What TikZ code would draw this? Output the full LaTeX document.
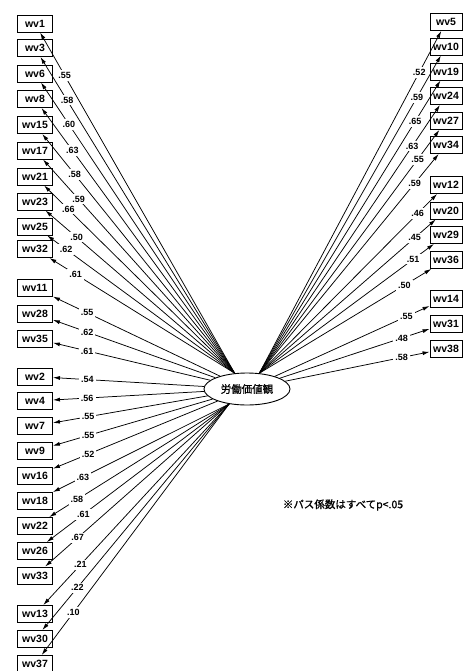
\documentclass[tikz,border=0pt]{standalone}
\usepackage{fontspec}
\setmainfont{Liberation Sans}
\newfontfamily\jpfont[FakeBold=1.2]{Noto Sans CJK JP}
\usetikzlibrary{shapes.geometric,arrows.meta}
\newcommand\wvfont{\fontsize{10.5}{12}\selectfont\bfseries}
\newcommand\cffont{\fontsize{9}{10}\selectfont\bfseries}
\tikzset{
  lbox/.style={draw, line width=0.9pt, minimum width=35pt, minimum height=17pt, inner sep=0pt, font=\wvfont},
  rbox/.style={lbox, minimum width=32pt},
  latent/.style={ellipse, draw, line width=0.9pt, minimum width=86pt, minimum height=32pt, inner sep=0pt, font=\jpfont\fontsize{10.5}{12}\selectfont},
  conn/.style={line width=0.75pt, -{Latex[length=7pt,width=4pt]}},
  coef/.style={fill=white, inner sep=2pt, font=\cffont},
}
\begin{document}
\begin{tikzpicture}[x=1pt,y=-1pt]
\useasboundingbox (0,0) rectangle (463,671);
\node[latent] (e) at (247,389) {労働価値観};
% left boxes
\foreach \n/\y in {wv1/23.5, wv3/48, wv6/73.5, wv8/99, wv15/125, wv17/150.5, wv21/176.5, wv23/201.5, wv25/226.5, wv32/249,
  wv11/288, wv28/313.5, wv35/338.5, wv2/376.5, wv4/401, wv7/426, wv9/451, wv16/476, wv18/501, wv22/526, wv26/551, wv33/575.5,
  wv13/614, wv30/639, wv37/664}
  \node[lbox] (\n) at (35,\y) {\n};
% right boxes
\foreach \n/\y in {wv5/22, wv10/46.5, wv19/71.5, wv24/96, wv27/121, wv34/145, wv12/185, wv20/210.5, wv29/235, wv36/260,
  wv14/298.5, wv31/323.5, wv38/348.5}
  \node[rbox] (\n) at (446,\y) {\n};
% upper left
\foreach \n/\p/\v in {wv1/.874/.55, wv3/.863/.58, wv6/.856/.60, wv8/.840/.63, wv15/.831/.58, wv17/.814/.59, wv21/.873/.66,
  wv23/.835/.50, wv25/.899/.62, wv32/.858/.61}
  \draw[conn] (e.128) -- node[coef,pos=\p]{\v} (\n);
% upper right
\foreach \n/\p/\v in {wv5/.879/.52, wv10/.868/.59, wv19/.860/.65, wv24/.846/.63, wv27/.879/.55, wv34/.866/.59, wv12/.89/.46,
  wv20/.88/.45, wv29/.881/.51, wv36/.843/.50}
  \draw[conn] (e.52) -- node[coef,pos=\p]{\v} (\n);
% right middle
\foreach \n/\p/\v in {wv14/.85/.55, wv31/.814/.48, wv38/.807/.58}
  \draw[conn] (e) -- node[coef,pos=\p]{\v} (\n);
% left middle
\foreach \n/\p/\v in {wv11/.795/.55, wv28/.789/.62, wv35/.782/.61, wv2/.773/.54, wv4/.773/.56, wv7/.772/.55, wv9/.779/.55, wv16/.786/.52}
  \draw[conn] (e) -- node[coef,pos=\p]{\v} (\n);
% lower left
\foreach \n/\p/\v in {wv18/.83/.63, wv22/.846/.58, wv26/.80/.61, wv33/.823/.67, wv13/.80/.21, wv30/.813/.22, wv37/.831/.10}
  \draw[conn] (e.220) -- node[coef,pos=\p]{\v} (\n);
\node[font=\jpfont\fontsize{10.5}{12}\selectfont] (note) at (343,505) {※パス係数はすべてp<.05};
\end{tikzpicture}
\end{document}
